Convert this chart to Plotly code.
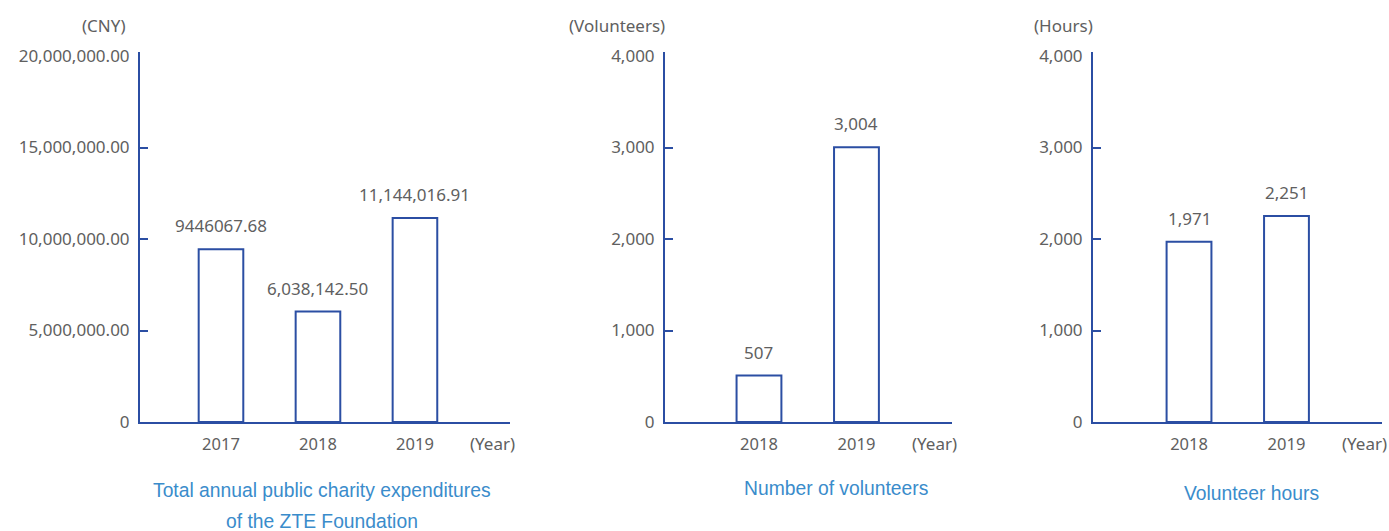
import plotly.graph_objects as go

# ---- data ----
exp_years = ["2017", "2018", "2019"]
exp_values = [9446067.68, 6038142.50, 11144016.91]
exp_labels = ["9446067.68", "6,038,142.50", "11,144,016.91"]
exp_ticks = [0, 5000000, 10000000, 15000000, 20000000]
exp_ticktext = ["0", "5,000,000.00", "10,000,000.00", "15,000,000.00", "20,000,000.00"]

vol_years = ["2018", "2019"]
vol_values = [507, 3004]
vol_labels = ["507", "3,004"]

hrs_years = ["2018", "2019"]
hrs_values = [1971, 2251]
hrs_labels = ["1,971", "2,251"]

count_ticks = [0, 1000, 2000, 3000, 4000]
count_ticktext = ["0", "1,000", "2,000", "3,000", "4,000"]

# ---- style ----
W, H = 1389, 531
AXIS = "#2b4ea3"
GRAY = "#606060"
BLUE_TXT = "#3a8ccb"
NUM_FONT = "Noto Sans, DejaVu Sans, sans-serif"
TTL_FONT = "Liberation Sans, Arial, sans-serif"

y_dom = [(H - 422) / H, (H - 52) / H]

panels = [
    dict(years=exp_years, values=exp_values, labels=exp_labels,
         xdom=(140, 510), xr=[-0.835, 2.98], yr=[0, 20220000],
         ticks=exp_ticks, ticktext=exp_ticktext, marks=[5000000, 10000000, 15000000],
         unit="(CNY)", unit_x=104,
         titles=[("Total annual public charity expenditures", 490),
                 ("of the ZTE Foundation", 521)], title_x=322),
    dict(years=vol_years, values=vol_values, labels=vol_labels,
         xdom=(665, 952), xr=[-0.964, 1.98], yr=[0, 4044],
         ticks=count_ticks, ticktext=count_ticktext, marks=[1000, 2000, 3000],
         unit="(Volunteers)", unit_x=617,
         titles=[("Number of volunteers", 488)], title_x=836),
    dict(years=hrs_years, values=hrs_values, labels=hrs_labels,
         xdom=(1093, 1382), xr=[-0.985, 1.98], yr=[0, 4044],
         ticks=count_ticks, ticktext=count_ticktext, marks=[1000, 2000, 3000],
         unit="(Hours)", unit_x=1063,
         titles=[("Volunteer hours", 493)], title_x=1251),
]

fig = go.Figure()
layout = {}
annotations = []

for i, p in enumerate(panels):
    n = i + 1
    xa = "x" if n == 1 else f"x{n}"
    ya = "y" if n == 1 else f"y{n}"
    xkey = "xaxis" if n == 1 else f"xaxis{n}"
    ykey = "yaxis" if n == 1 else f"yaxis{n}"
    tick_key = f"yaxis{n + 3}"
    tick_ref = f"y{n + 3}"

    xs = list(range(len(p["years"])))
    fig.add_trace(go.Bar(
        x=xs, y=p["values"], width=0.46,
        marker=dict(color="white", line=dict(color=AXIS, width=2)),
        xaxis=xa, yaxis=ya, showlegend=False, hoverinfo="skip",
    ))
    # transparent twin so the tick-mark axis is rendered on the same scale
    fig.add_trace(go.Scatter(
        x=xs, y=p["values"], mode="markers", marker=dict(opacity=0),
        xaxis=xa, yaxis=tick_ref, showlegend=False, hoverinfo="skip",
    ))

    layout[xkey] = dict(
        domain=[p["xdom"][0] / W, p["xdom"][1] / W], range=p["xr"], anchor=ya,
        tickmode="array", tickvals=xs, ticktext=p["years"], ticks="",
        showline=True, linecolor=AXIS, linewidth=2, showgrid=False, zeroline=False,
        tickfont=dict(family=NUM_FONT, size=16.5, color=GRAY),
        ticklabelstandoff=6, automargin=False,
    )
    layout[ykey] = dict(
        domain=y_dom, range=p["yr"], anchor=xa,
        tickmode="array", tickvals=p["ticks"], ticktext=p["ticktext"], ticks="",
        showline=True, linecolor=AXIS, linewidth=2, showgrid=False, zeroline=False,
        tickfont=dict(family=NUM_FONT, size=17, color=GRAY),
        ticklabelstandoff=5, automargin=False,
    )
    # companion axis carrying only the inner tick marks
    layout[tick_key] = dict(
        overlaying=ya, anchor=xa, side="left", range=p["yr"],
        tickmode="array", tickvals=p["marks"], ticks="inside", ticklen=8,
        tickwidth=2, tickcolor=AXIS, showticklabels=False,
        showline=False, showgrid=False, zeroline=False, automargin=False,
    )

    # value labels above bars
    for x, v, lab in zip(xs, p["values"], p["labels"]):
        annotations.append(dict(
            x=x, y=v, xref=xa, yref=ya, text=lab, showarrow=False,
            yanchor="bottom", yshift=10,
            font=dict(family=NUM_FONT, size=17, color=GRAY),
        ))

    # "(Year)" marker at the end of the category axis
    annotations.append(dict(
        x=p["xr"][1] - 0.18, y=0, xref=xa, yref=ya, text="(Year)", showarrow=False,
        yanchor="top", yshift=-8,
        font=dict(family=NUM_FONT, size=17, color=GRAY),
    ))

    # unit label above the value axis
    annotations.append(dict(
        x=p["unit_x"] / W, y=1 - 25 / H, xref="paper", yref="paper",
        text=p["unit"], showarrow=False, xanchor="center", yanchor="middle",
        font=dict(family=NUM_FONT, size=17, color=GRAY),
    ))

    # caption under each chart
    for text, ypx in p["titles"]:
        annotations.append(dict(
            x=p["title_x"] / W, y=1 - ypx / H, xref="paper", yref="paper",
            text=text, showarrow=False, xanchor="center", yanchor="middle",
            font=dict(family=TTL_FONT, size=19.3, color=BLUE_TXT),
        ))

fig.update_layout(
    width=W, height=H, margin=dict(l=0, r=0, t=0, b=0, autoexpand=False),
    paper_bgcolor="white", plot_bgcolor="white",
    annotations=annotations, showlegend=False, **layout,
)

fig.write_html("out.html", config={"displayModeBar": False})
